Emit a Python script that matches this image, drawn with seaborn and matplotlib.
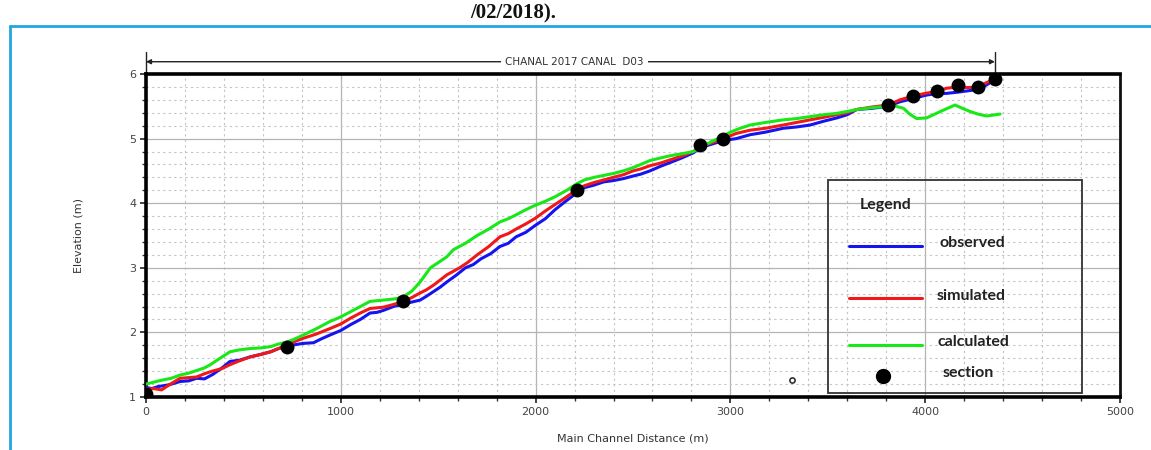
import matplotlib
matplotlib.use("Agg")
import matplotlib.pyplot as plt
from matplotlib.lines import Line2D
from matplotlib.patches import Rectangle
from matplotlib.ticker import MultipleLocator
import numpy as np
import pandas as pd
import seaborn as sns

# ---- longitudinal profile data (distance in m, elevation in m) ----
observed_x = [0, 30, 60, 120, 175, 220, 260, 300, 343, 390, 431, 480, 534, 590, 640,
              680, 722, 765, 808, 860, 900, 945, 1000, 1050, 1100, 1150, 1185, 1218,
              1270, 1321, 1365, 1407, 1440, 1480, 1510, 1544, 1590, 1640, 1680, 1720,
              1770, 1817, 1860, 1900, 1950, 2000, 2050, 2100, 2150, 2211, 2250, 2300,
              2350, 2399, 2450, 2500, 2540, 2587, 2640, 2700, 2750, 2810, 2844, 2900,
              2964, 3030, 3101, 3180, 3271, 3340, 3409, 3480, 3546, 3600, 3648, 3730,
              3811, 3870, 3939, 4000, 4059, 4110, 4170, 4220, 4273, 4320, 4358]
observed_y = [1.15, 1.13, 1.16, 1.19, 1.24, 1.25, 1.29, 1.28, 1.35, 1.45, 1.55, 1.57,
              1.62, 1.66, 1.70, 1.75, 1.78, 1.81, 1.83, 1.84, 1.90, 1.96, 2.03, 2.12,
              2.20, 2.30, 2.31, 2.34, 2.40, 2.44, 2.47, 2.50, 2.56, 2.64, 2.70, 2.78,
              2.88, 3.00, 3.05, 3.14, 3.22, 3.33, 3.38, 3.48, 3.55, 3.66, 3.76, 3.90,
              4.02, 4.16, 4.24, 4.28, 4.33, 4.35, 4.38, 4.42, 4.45, 4.50, 4.57, 4.64,
              4.70, 4.78, 4.86, 4.91, 4.97, 5.00, 5.06, 5.10, 5.16, 5.18, 5.21, 5.27,
              5.32, 5.37, 5.45, 5.47, 5.50, 5.57, 5.62, 5.67, 5.70, 5.70, 5.72, 5.74,
              5.76, 5.84, 5.92]

simulated_x = [0, 40, 80, 120, 175, 220, 260, 300, 340, 390, 431, 480, 534, 590, 640,
               680, 722, 765, 808, 870, 945, 1000, 1050, 1100, 1150, 1218, 1280, 1321,
               1365, 1407, 1440, 1480, 1544, 1610, 1650, 1700, 1760, 1817, 1860, 1900,
               1950, 2000, 2050, 2100, 2160, 2211, 2250, 2300, 2350, 2399, 2450, 2500,
               2540, 2587, 2640, 2700, 2760, 2810, 2844, 2900, 2964, 3030, 3101, 3180,
               3271, 3340, 3409, 3480, 3546, 3600, 3648, 3730, 3811, 3870, 3939, 4000,
               4059, 4110, 4170, 4220, 4273, 4310, 4340]
simulated_y = [1.12, 1.13, 1.11, 1.19, 1.29, 1.30, 1.31, 1.36, 1.40, 1.44, 1.50, 1.56,
               1.62, 1.66, 1.70, 1.75, 1.80, 1.86, 1.91, 1.97, 2.06, 2.13, 2.22, 2.30,
               2.37, 2.39, 2.44, 2.48, 2.54, 2.61, 2.66, 2.74, 2.89, 3.00, 3.08, 3.20,
               3.33, 3.48, 3.53, 3.60, 3.68, 3.77, 3.88, 3.98, 4.10, 4.21, 4.27, 4.32,
               4.36, 4.40, 4.44, 4.50, 4.53, 4.58, 4.62, 4.68, 4.74, 4.80, 4.88, 4.93,
               5.00, 5.08, 5.13, 5.16, 5.21, 5.25, 5.29, 5.33, 5.37, 5.40, 5.45, 5.49,
               5.52, 5.60, 5.66, 5.70, 5.73, 5.78, 5.80, 5.79, 5.80, 5.86, 5.90]

calculated_x = [0, 40, 80, 130, 175, 220, 260, 300, 330, 380, 431, 480, 534, 590, 640,
                680, 722, 765, 808, 870, 945, 1000, 1050, 1100, 1150, 1218, 1280, 1321,
                1365, 1407, 1460, 1500, 1544, 1578, 1640, 1700, 1760, 1817, 1860, 1900,
                1950, 2000, 2050, 2100, 2160, 2211, 2250, 2300, 2350, 2399, 2450, 2500,
                2540, 2587, 2640, 2700, 2760, 2810, 2860, 2900, 2950, 3000, 3050, 3101,
                3180, 3271, 3340, 3409, 3480, 3546, 3600, 3648, 3730, 3811, 3850, 3888,
                3920, 3956, 4007, 4050, 4093, 4153, 4190, 4230, 4270, 4316, 4384]
calculated_y = [1.20, 1.23, 1.26, 1.29, 1.34, 1.37, 1.41, 1.45, 1.50, 1.60, 1.70, 1.73,
                1.75, 1.76, 1.78, 1.82, 1.85, 1.90, 1.96, 2.05, 2.17, 2.24, 2.32, 2.40,
                2.48, 2.50, 2.52, 2.55, 2.64, 2.78, 3.00, 3.08, 3.17, 3.28, 3.38, 3.50,
                3.60, 3.71, 3.76, 3.82, 3.90, 3.97, 4.03, 4.10, 4.20, 4.30, 4.36, 4.40,
                4.43, 4.46, 4.50, 4.55, 4.60, 4.66, 4.70, 4.74, 4.77, 4.80, 4.88, 4.95,
                5.02, 5.10, 5.16, 5.21, 5.25, 5.29, 5.31, 5.34, 5.37, 5.39, 5.42, 5.45,
                5.48, 5.50, 5.50, 5.47, 5.38, 5.31, 5.32, 5.38, 5.44, 5.52, 5.47, 5.42,
                5.38, 5.35, 5.38]

section_x = [0, 722, 1321, 2211, 2844, 2964, 3811, 3939, 4059, 4170, 4273, 4358]
section_y = [1.04, 1.78, 2.48, 4.21, 4.90, 5.00, 5.52, 5.66, 5.73, 5.83, 5.80, 5.92]

gauge_x = [3315]
gauge_y = [1.27]

series_names = ["observed", "simulated", "calculated"]
series_colors = {"observed": "#1414f0", "simulated": "#f01818", "calculated": "#18e818"}

profile = pd.concat([
    pd.DataFrame({"distance": observed_x, "elevation": observed_y, "series": "observed"}),
    pd.DataFrame({"distance": simulated_x, "elevation": simulated_y, "series": "simulated"}),
    pd.DataFrame({"distance": calculated_x, "elevation": calculated_y, "series": "calculated"}),
], ignore_index=True)
sections = pd.DataFrame({"distance": section_x, "elevation": section_y})

sns.set_theme(style="white")
plt.rcParams["font.family"] = ["DejaVu Sans"]

fig = plt.figure(figsize=(11.51, 4.5), dpi=100)
ax = fig.add_axes([146 / 1151, 53 / 450, 974 / 1151, 323 / 450])

# grid: solid majors, dotted minors
ax.set_xlim(0, 5000)
ax.set_ylim(1, 6)
ax.xaxis.set_major_locator(MultipleLocator(1000))
ax.xaxis.set_minor_locator(MultipleLocator(200))
ax.yaxis.set_major_locator(MultipleLocator(1))
ax.yaxis.set_minor_locator(MultipleLocator(0.2))
ax.grid(which="major", color="#b4b4b4", lw=0.9, ls="-", zorder=0)
ax.grid(which="minor", color="#c4c4c4", lw=0.8, ls=(0, (2, 3)), zorder=0)
ax.set_axisbelow(True)

sns.lineplot(data=profile, x="distance", y="elevation", hue="series",
             hue_order=series_names, palette=series_colors, sort=False,
             estimator=None, lw=2.2, legend=False, ax=ax, zorder=3)
sns.scatterplot(data=sections, x="distance", y="elevation", color="black",
                s=100, marker="o", edgecolor="black", linewidth=0, ax=ax, zorder=5)
ax.scatter(gauge_x, gauge_y, s=14, facecolor="white", edgecolor="#333333",
           linewidth=1.2, zorder=5)

# axes frame and ticks
for side in ["left", "bottom", "top"]:
    ax.spines[side].set_linewidth(2.6)
    ax.spines[side].set_color("black")
ax.spines["right"].set_linewidth(2.0)
ax.spines["right"].set_color("#111111")
ax.tick_params(which="major", direction="out", length=4, width=1.2, color="#222222",
               labelsize=8, labelcolor="#444444", pad=3, left=True, bottom=True)
ax.tick_params(which="minor", direction="out", length=3, width=1.0, color="#333333",
               left=True, bottom=True)
ax.set_xlabel("Main Channel Distance (m)", fontsize=8, color="#333333", labelpad=12)
ax.set_ylabel("Elevation (m)", fontsize=8, color="#333333", labelpad=33)

# reach annotation above the profile
reach_y = 6.19
ax.annotate("", xy=(section_x[0], reach_y), xytext=(section_x[-1], reach_y),
            arrowprops=dict(arrowstyle="<|-|>", color="#222222", lw=1.0,
                            mutation_scale=7, shrinkA=0, shrinkB=0),
            annotation_clip=False)
ax.plot([section_x[0], section_x[0]], [5.98, 6.34], color="#222222", lw=1.0, clip_on=False)
ax.plot([section_x[-1], section_x[-1]], [5.9, 6.34], color="#222222", lw=1.0, clip_on=False)
ax.text(2200, reach_y, "CHANAL 2017 CANAL  D03", fontsize=7.5, color="#333333",
        ha="center", va="center",
        bbox=dict(facecolor="white", edgecolor="none", pad=3), clip_on=False, zorder=6)

# hand-made legend box
ax.add_patch(Rectangle((0.700, 0.012), 0.261, 0.660, transform=ax.transAxes,
                       fill=False, edgecolor="#333333", lw=1.3, zorder=6))
lfont = dict(family=["Lato", "DejaVu Sans"], weight="bold", color="#222222",
             fontsize=11.5, transform=ax.transAxes, va="center", zorder=7)
ax.text(0.733, 0.595, "Legend", **lfont)
legend_rows = [("observed", 0.476, 0.815), ("simulated", 0.313, 0.812),
               ("calculated", 0.170, 0.813)]
for name, yrow, xtext in legend_rows:
    ax.plot([0.722, 0.797], [yrow - 0.008, yrow - 0.008], color=series_colors[name],
            lw=2.2, transform=ax.transAxes, zorder=7)
    ax.text(xtext, yrow, name, **lfont)
ax.scatter([0.757], [0.065], s=100, color="black", transform=ax.transAxes, zorder=7)
ax.text(0.818, 0.074, "section", **lfont)

# page frame and caption fragment
fig.add_artist(Line2D([10 / 1151, 1.0], [1 - 26 / 450, 1 - 26 / 450],
                      color="#22a6e3", lw=2.0))
fig.add_artist(Line2D([10 / 1151, 10 / 1151], [0, 1 - 26 / 450],
                      color="#22a6e3", lw=2.0))
fig.text(470 / 1151, 1 - 18 / 450, "/02/2018).", fontsize=15, weight="bold",
         family=["Liberation Serif", "DejaVu Serif"], color="#111111", va="baseline")

fig.savefig("out.png", dpi=100, facecolor="white")
